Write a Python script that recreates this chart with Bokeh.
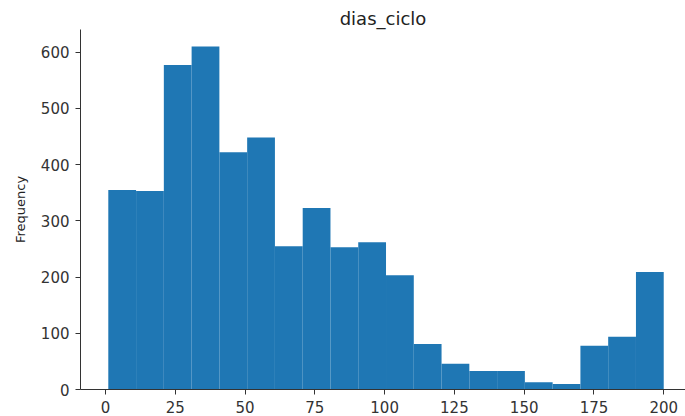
from bokeh.plotting import figure
from bokeh.models import FixedTicker, Range1d
from bokeh.embed import file_html
from bokeh.resources import INLINE

bin_edges = [1.0, 10.95, 20.9, 30.85, 40.8, 50.75, 60.7, 70.65, 80.6, 90.55, 100.5,
             110.45, 120.4, 130.35, 140.3, 150.25, 160.2, 170.15, 180.1, 190.05, 200.0]
counts = [355, 353, 577, 610, 422, 448, 255, 323, 253, 262,
          203, 81, 46, 33, 33, 13, 10, 78, 94, 209]
x_ticks = [0, 25, 50, 75, 100, 125, 150, 175, 200]
y_ticks = [0, 100, 200, 300, 400, 500, 600]

FONT = "DejaVu Sans"
AX = "#333333"

p = figure(width=685, height=416, output_backend="svg", toolbar_location=None,
           x_range=Range1d(-8.96, 207.8), y_range=Range1d(0, 640.3),
           min_border_left=80, min_border_right=0, min_border_top=29,
           min_border_bottom=27, title="dias_ciclo")
p.outline_line_color = None
p.xgrid.visible = False
p.ygrid.visible = False

p.title.align = "center"
p.title.text_font = FONT
p.title.text_font_size = "18px"
p.title.text_font_style = "normal"
p.title.text_color = "#222222"
p.title.standoff = 2

p.quad(left=bin_edges[:-1], right=bin_edges[1:], bottom=0, top=counts,
       fill_color="#1f77b4", line_color=None)

for ax in (p.xaxis[0], p.yaxis[0]):
    ax.axis_line_color = AX
    ax.major_tick_line_color = AX
    ax.minor_tick_line_color = None
    ax.major_tick_in = 0
    ax.major_tick_out = 5
    ax.major_label_text_font = FONT
    ax.major_label_text_font_size = "15px"
    ax.major_label_text_color = "#333333"
    ax.major_label_standoff = 6

p.xaxis.ticker = FixedTicker(ticks=x_ticks)
p.yaxis.ticker = FixedTicker(ticks=y_ticks)
p.yaxis.axis_label = "Frequency"
p.yaxis.axis_label_text_font = FONT
p.yaxis.axis_label_text_font_size = "13px"
p.yaxis.axis_label_text_font_style = "normal"
p.yaxis.axis_label_text_color = "#222222"
p.yaxis.axis_label_standoff = 10

open("out.html", "w").write(file_html(p, INLINE))
